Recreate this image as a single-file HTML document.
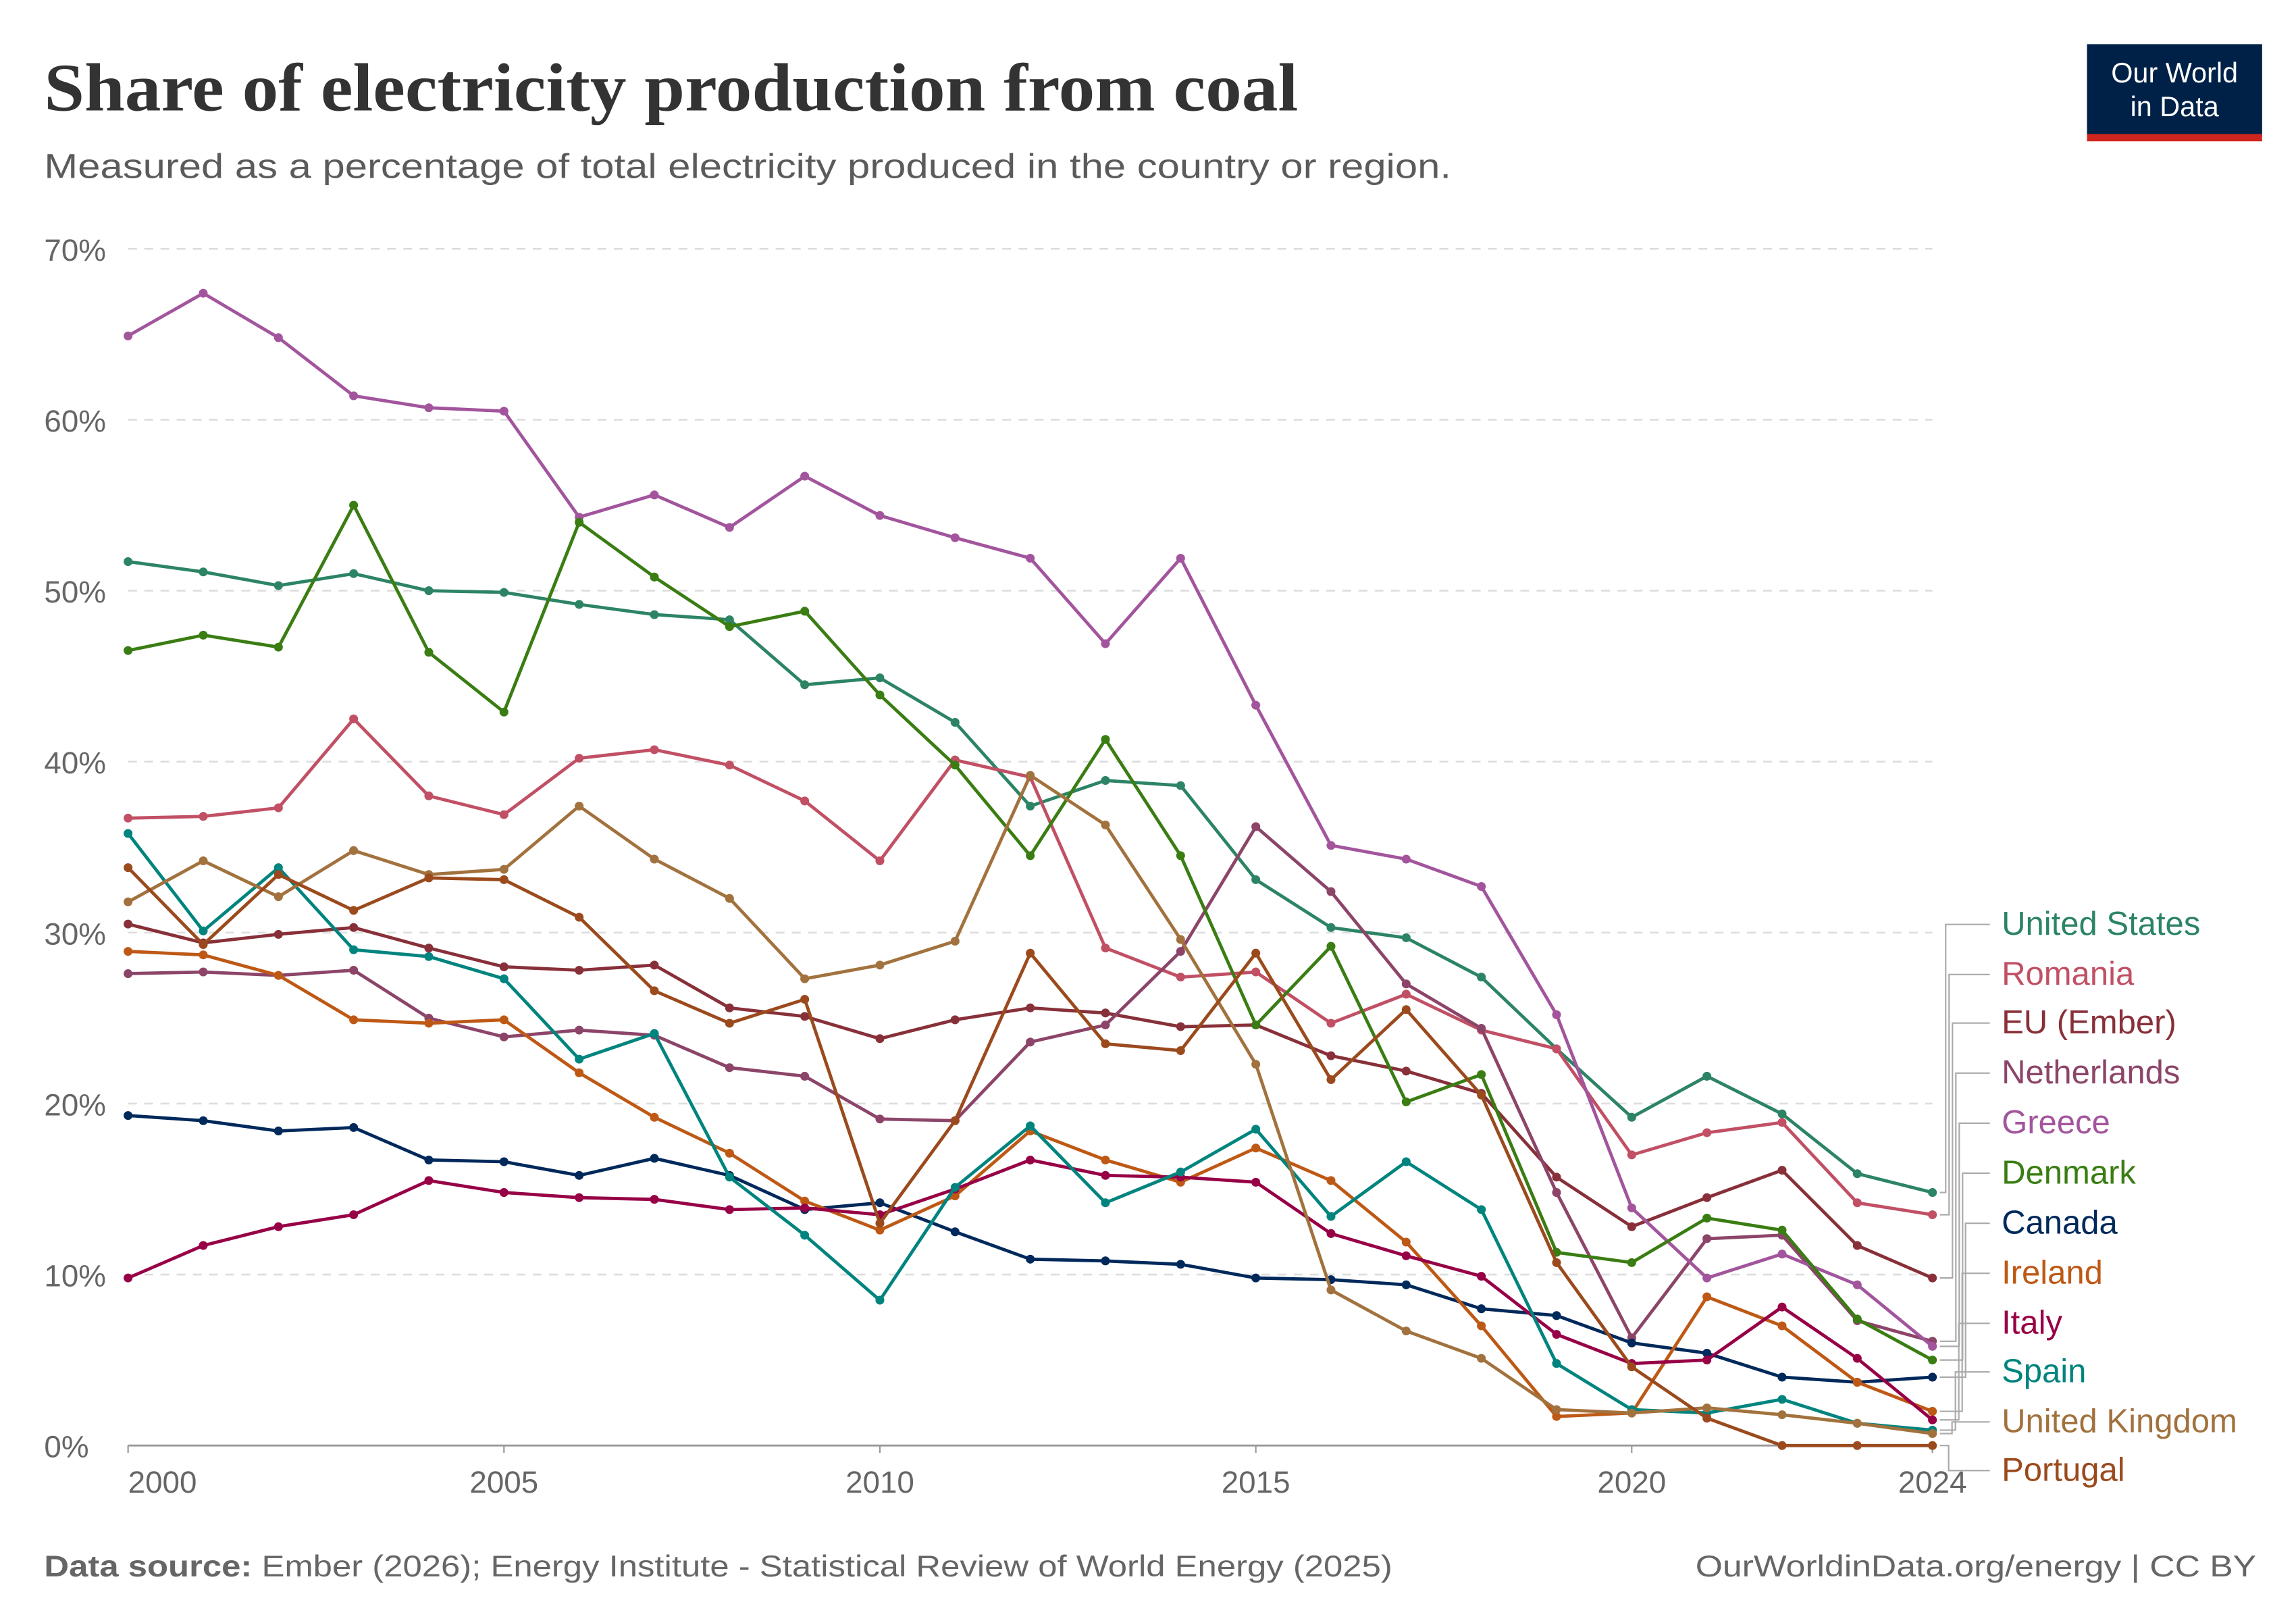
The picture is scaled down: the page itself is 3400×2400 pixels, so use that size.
<!DOCTYPE html>
<html><head><meta charset="utf-8"><style>
html,body{margin:0;padding:0;background:#fff;}
svg{display:block;font-family:"Liberation Sans",sans-serif;}
</style></head><body>
<svg id="chart" width="3400" height="2400" viewBox="0 0 1560 1101.2" xmlns="http://www.w3.org/2000/svg">
<text x="30" y="75" font-family="Liberation Serif,serif" font-weight="bold" font-size="46" fill="#333" textLength="852" lengthAdjust="spacingAndGlyphs">Share of electricity production from coal</text>
<text x="30" y="121" font-size="23.5" fill="#5b5b5b" textLength="956" lengthAdjust="spacingAndGlyphs">Measured as a percentage of total electricity produced in the country or region.</text>
<g>
<rect x="1418" y="30" width="119" height="62" fill="#002147"/>
<rect x="1418" y="91" width="119" height="5" fill="#ce261e"/>
<text x="1477.5" y="56" text-anchor="middle" font-size="19" fill="#fff">Our World</text>
<text x="1477.5" y="79" text-anchor="middle" font-size="19" fill="#fff">in Data</text>
</g>
<g id="grid"></g>
<g id="series"></g>
<g id="legend"></g>
<text x="30" y="1071" font-size="20.5" fill="#666" textLength="916" lengthAdjust="spacingAndGlyphs"><tspan font-weight="bold">Data source:</tspan> Ember (2026); Energy Institute - Statistical Review of World Energy (2025)</text>
<text x="1152" y="1071" font-size="20.5" fill="#666" textLength="381" lengthAdjust="spacingAndGlyphs">OurWorldinData.org/energy | CC BY</text>
</svg>
<script>
const years=[2000,2001,2002,2003,2004,2005,2006,2007,2008,2009,2010,2011,2012,2013,2014,2015,2016,2017,2018,2019,2020,2021,2022,2023,2024];
const yTicks=[0,10,20,30,40,50,60,70];
const xTicks=[2000,2005,2010,2015,2020,2024];
const names=["United States","Romania","EU (Ember)","Netherlands","Greece","Denmark","Canada","Ireland","Italy","Spain","United Kingdom","Portugal"];
const colors=["#2c8465","#c15065","#883039","#8c4569","#a2559c","#3a7d13","#00295b","#be5915","#970046","#00847e","#a2723e","#9b4a1d"];
const usa=[51.7,51.1,50.3,51.0,50.0,49.9,49.2,48.6,48.3,44.5,44.9,42.3,37.4,38.9,38.6,33.1,30.3,29.7,27.4,23.2,19.2,21.6,19.4,15.9,14.8];
const romania=[36.7,36.8,37.3,42.5,38.0,36.9,40.2,40.7,39.8,37.7,34.2,40.1,39.1,29.1,27.4,27.7,24.7,26.4,24.3,23.2,17.0,18.3,18.9,14.2,13.5];
const eu=[30.5,29.4,29.9,30.3,29.1,28.0,27.8,28.1,25.6,25.1,23.8,24.9,25.6,25.3,24.5,24.6,22.8,21.9,20.6,15.7,12.8,14.5,16.1,11.7,9.8];
const netherlands=[27.6,27.7,27.5,27.8,25.0,23.9,24.3,24.0,22.1,21.6,19.1,19.0,23.6,24.6,28.9,36.2,32.4,27.0,24.4,14.8,6.3,12.1,12.3,7.3,6.1];
const greece=[64.9,67.4,64.8,61.4,60.7,60.5,54.3,55.6,53.7,56.7,54.4,53.1,51.9,46.9,51.9,43.3,35.1,34.3,32.7,25.2,13.9,9.8,11.2,9.4,5.8];
const denmark=[46.5,47.4,46.7,55.0,46.4,42.9,54.0,50.8,47.9,48.8,43.9,39.8,34.5,41.3,34.5,24.6,29.2,20.1,21.7,11.3,10.7,13.3,12.6,7.4,5.0];
const canada=[19.3,19.0,18.4,18.6,16.7,16.6,15.8,16.8,15.8,13.8,14.2,12.5,10.9,10.8,10.6,9.8,9.7,9.4,8.0,7.6,6.0,5.4,4.0,3.7,4.0];
const ireland=[28.9,28.7,27.5,24.9,24.7,24.9,21.8,19.2,17.1,14.3,12.6,14.6,18.4,16.7,15.4,17.4,15.5,11.9,7.0,1.7,1.9,8.7,7.0,3.7,2.0];
const italy=[9.8,11.7,12.8,13.5,15.5,14.8,14.5,14.4,13.8,13.9,13.5,15.0,16.7,15.8,15.7,15.4,12.4,11.1,9.9,6.5,4.8,5.0,8.1,5.1,1.5];
const spain=[35.8,30.1,33.8,29.0,28.6,27.3,22.6,24.1,15.7,12.3,8.5,15.1,18.7,14.2,16.0,18.5,13.4,16.6,13.8,4.8,2.1,1.9,2.7,1.3,0.9];
const uk=[31.8,34.2,32.1,34.8,33.4,33.7,37.4,34.3,32.0,27.3,28.1,29.5,39.2,36.3,29.6,22.3,9.1,6.7,5.1,2.1,1.9,2.2,1.8,1.3,0.7];
const portugal=[33.8,29.3,33.4,31.3,33.2,33.1,30.9,26.6,24.7,26.1,13.0,19.0,28.8,23.5,23.1,28.8,21.4,25.5,20.5,10.7,4.6,1.6,0,0,0];
const seriesData=[usa,romania,eu,netherlands,greece,denmark,canada,ireland,italy,spain,uk,portugal];

const NS="http://www.w3.org/2000/svg";
const X0=87,X1=1313,Y0=982,Y70=169;
const xs=y=>X0+(y-2000)*(X1-X0)/24;
const ys=v=>Y0-v*(Y0-Y70)/70;
function mk(tag,attrs,parent){const e=document.createElementNS(NS,tag);for(const k in attrs)e.setAttribute(k,attrs[k]);parent.appendChild(e);return e;}
const grid=document.getElementById('grid');
yTicks.forEach(t=>{
  if(t>0){const l=mk('line',{x1:X0,x2:X1,y1:ys(t),y2:ys(t),stroke:'#ddd','stroke-dasharray':'6,5','stroke-width':1.2},grid);
  
  }
  const tx=mk('text',{x:30,y:ys(t)+8,'font-size':21,fill:'#666'},grid);tx.textContent=t+'%';
  
  
});
const ax=mk('line',{x1:X0,x2:X1,y1:Y0,y2:Y0,stroke:'#999','stroke-width':1.3},grid);


xTicks.forEach(t=>{
  mk('line',{x1:xs(t),x2:xs(t),y1:Y0,y2:Y0+5,stroke:'#999'},grid);
  const anchor=t===2000?'start':'middle';
  const tx=mk('text',{x:t===2000?X0:xs(t),y:Y0+32,'font-size':21,fill:'#666','text-anchor':anchor},grid);tx.textContent=t;
  
  
});
const sg=document.getElementById('series');
seriesData.forEach((d,i)=>{
  const g=mk('g',{},sg);
  
  
  const pts=d.map((v,j)=>xs(years[j]).toFixed(1)+','+ys(v).toFixed(1)).join(' ');
  mk('polyline',{points:pts,fill:'none',stroke:colors[i],'stroke-width':2.2,'stroke-linejoin':'round'},g);
  d.forEach((v,j)=>{mk('circle',{cx:xs(years[j]),cy:ys(v),r:3,fill:colors[i]},g);});
});
const lg=document.getElementById('legend');
const labelY=[635,669,702,736,770,804,838,872,906,939,973,1006];
const order=seriesData.map((d,i)=>i);
order.forEach((i,k)=>{
  const endY=ys(seriesData[i][24]);
  const ly=labelY[k]-7;
  const bx=1322+ (k<6? k*2.3 : (11-k)*2.3+2);
  mk('path',{d:`M1318,${endY} H${bx} V${ly} H1352`,fill:'none',stroke:'#aaa','stroke-width':1},lg);
  const tx=mk('text',{x:1360,y:labelY[k],'font-size':22.5,fill:colors[i]},lg);tx.textContent=names[i];
  
  
});
</script>
</body></html>
